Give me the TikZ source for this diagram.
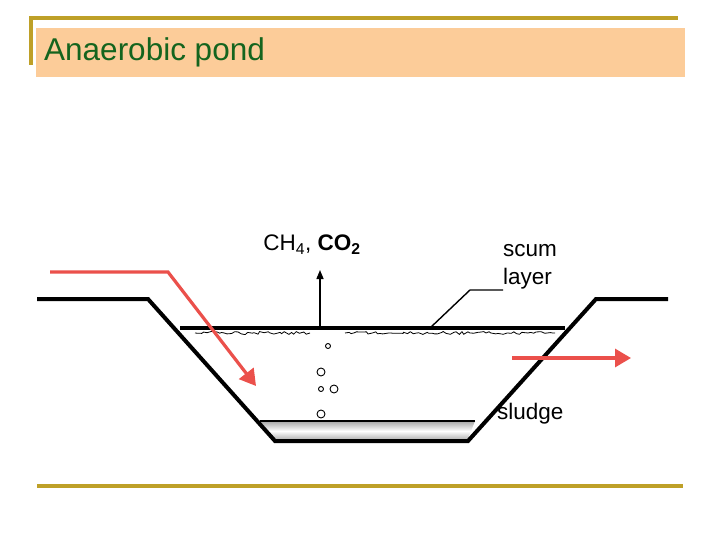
\documentclass[tikz,border=0pt]{standalone}
\usepackage{fontspec}
\setmainfont{Liberation Sans}
\usetikzlibrary{decorations.pathmorphing,arrows.meta}
\definecolor{gold}{RGB}{190,160,40}
\definecolor{peach}{RGB}{252,204,153}
\definecolor{dgreen}{RGB}{20,100,30}
\definecolor{rarrow}{RGB}{235,80,75}
\tikzset{
  bank/.style={line width=4pt,line join=miter},
  redarr/.style={draw=rarrow,line width=3.2pt,-{Triangle[length=16pt,width=18pt]}},
  bubble/.style={draw,line width=0.9pt,circle,inner sep=0pt},
  lbl/.style={font=\fontsize{22.5}{26}\selectfont,inner sep=0pt}
}
\begin{document}
\begin{tikzpicture}[x=1pt,y=-1pt]
\useasboundingbox (0,0) rectangle (720,540);
\fill[white] (0,0) rectangle (720,540);
\draw[gold,line width=3.2pt] (31,65) -- (31,18) -- (678,18);
\fill[peach] (36,28) rectangle (685,77);
\node[anchor=west,text=dgreen,font=\fontsize{31.5}{36}\selectfont,inner sep=0pt] (title) at (44,52) {Anaerobic pond};
\draw[gold,line width=3.2pt] (37,486) -- (683,486);
% sludge
\shade[top color=gray!70,bottom color=gray!70,middle color=white] (260,421) -- (475,421) -- (467,441) -- (275,441) -- cycle;
\draw[line width=1.6pt] (260,421) -- (475,421);
% water line
\draw[line width=3.2pt] (180,328) -- (565,328);
\draw[line width=0.8pt,decorate,decoration={random steps,segment length=3pt,amplitude=1.5pt}] (195,333) -- (310,333);
\draw[line width=0.8pt,decorate,decoration={random steps,segment length=3pt,amplitude=1.5pt}] (345,333) -- (555,333);
% banks
\draw[bank] (37,299) -- (148,299) -- (275,441) -- (468,441) -- (596,299) -- (668,299);
% gas arrow
\coordinate (gs) at (320,327);
\node[lbl,anchor=south] (gas) at (312,255) {CH\textsubscript{4}, \textbf{CO\textsubscript{2}}};
\draw[-{Triangle[length=9pt,width=7pt]},line width=1.4pt] (gs) -- (320,270);
% bubbles
\node[bubble,minimum size=5pt] (b1) at (328,346) {};
\node[bubble,minimum size=8pt] (b2) at (321,372) {};
\node[bubble,minimum size=5pt] (b3) at (321,389) {};
\node[bubble,minimum size=8pt] (b4) at (334,389) {};
\node[bubble,minimum size=8pt] (b5) at (321,414) {};
% scum label
\node[lbl,font=\fontsize{22.5}{28}\selectfont,align=left,anchor=west] (scum) at (503,267) {scum\\layer};
\coordinate (sc) at (430,328);
\draw[line width=1.4pt] (sc) -- (470,290) -- (503,290);
\node[lbl,anchor=west] (sludge) at (497,414) {sludge};
% red arrows
\coordinate (in0) at (50,272);
\coordinate (in1) at (168,272);
\coordinate (in2) at (256,386);
\draw[redarr] (in0) -- (in1) -- (in2);
\coordinate (o0) at (512,358);
\coordinate (o1) at (631,358);
\draw[redarr] (o0) -- (o1);
\end{tikzpicture}
\end{document}
